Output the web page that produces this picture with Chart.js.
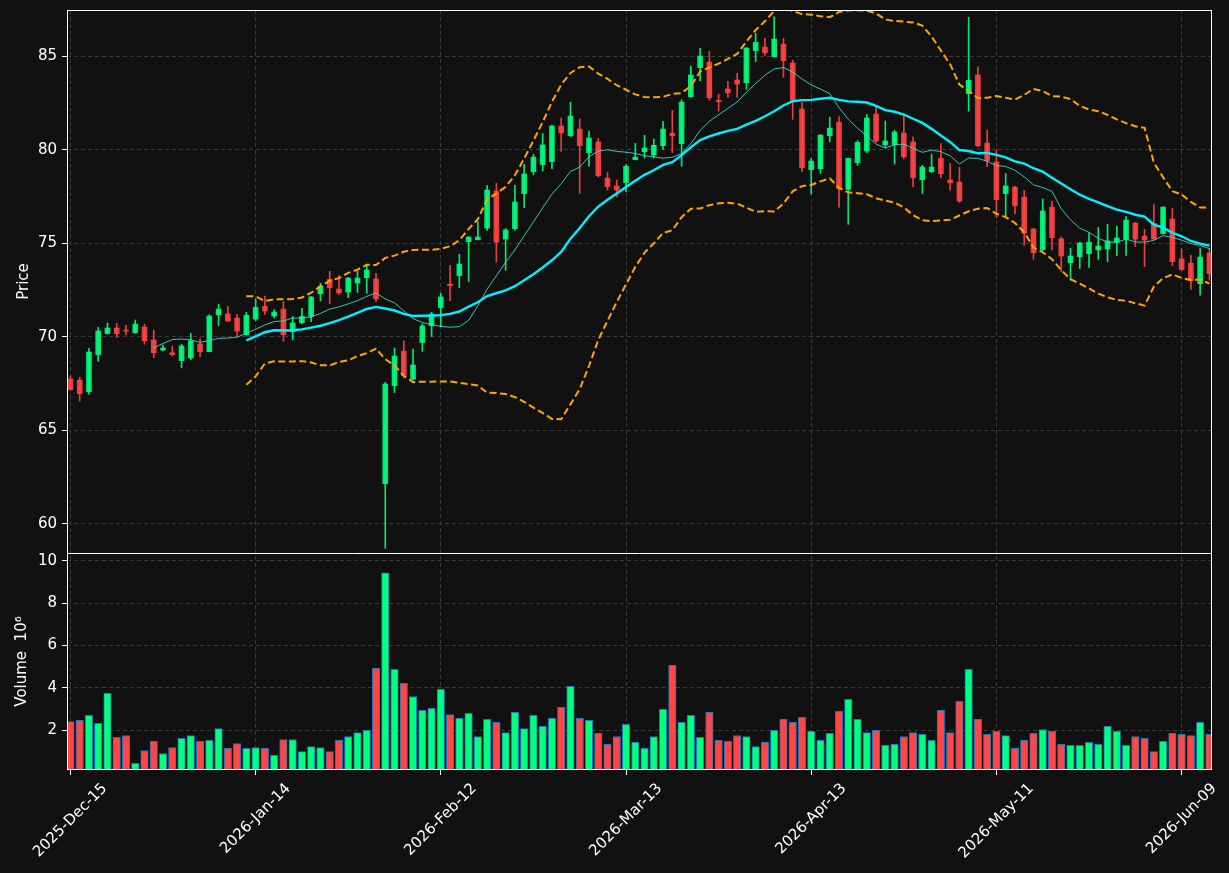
<!DOCTYPE html>
<html>
<head>
<meta charset="utf-8">
<script src="https://cdn.jsdelivr.net/npm/chart.js@4.4.1/dist/chart.umd.min.js"></script>
<style>
    html, body { margin: 0; padding: 0; background: #111111; }
    #wrap { width: 1229px; height: 873px; }
</style>
</head>
<body>
<div id="wrap"><canvas id="chart" width="1229" height="873"></canvas></div>
<script>
(function (window, document) {
    "use strict";

    // trading days (NYSE calendar)
    const dates = [
        "2025-Dec-15","2025-Dec-16","2025-Dec-17","2025-Dec-18","2025-Dec-19","2025-Dec-22","2025-Dec-23","2025-Dec-24","2025-Dec-26","2025-Dec-29",
        "2025-Dec-30","2025-Dec-31","2026-Jan-02","2026-Jan-05","2026-Jan-06","2026-Jan-07","2026-Jan-08","2026-Jan-09","2026-Jan-12","2026-Jan-13",
        "2026-Jan-14","2026-Jan-15","2026-Jan-16","2026-Jan-20","2026-Jan-21","2026-Jan-22","2026-Jan-23","2026-Jan-26","2026-Jan-27","2026-Jan-28",
        "2026-Jan-29","2026-Jan-30","2026-Feb-02","2026-Feb-03","2026-Feb-04","2026-Feb-05","2026-Feb-06","2026-Feb-09","2026-Feb-10","2026-Feb-11",
        "2026-Feb-12","2026-Feb-13","2026-Feb-17","2026-Feb-18","2026-Feb-19","2026-Feb-20","2026-Feb-23","2026-Feb-24","2026-Feb-25","2026-Feb-26",
        "2026-Feb-27","2026-Mar-02","2026-Mar-03","2026-Mar-04","2026-Mar-05","2026-Mar-06","2026-Mar-09","2026-Mar-10","2026-Mar-11","2026-Mar-12",
        "2026-Mar-13","2026-Mar-16","2026-Mar-17","2026-Mar-18","2026-Mar-19","2026-Mar-20","2026-Mar-23","2026-Mar-24","2026-Mar-25","2026-Mar-26",
        "2026-Mar-27","2026-Mar-30","2026-Mar-31","2026-Apr-01","2026-Apr-02","2026-Apr-06","2026-Apr-07","2026-Apr-08","2026-Apr-09","2026-Apr-10",
        "2026-Apr-13","2026-Apr-14","2026-Apr-15","2026-Apr-16","2026-Apr-17","2026-Apr-20","2026-Apr-21","2026-Apr-22","2026-Apr-23","2026-Apr-24",
        "2026-Apr-27","2026-Apr-28","2026-Apr-29","2026-Apr-30","2026-May-01","2026-May-04","2026-May-05","2026-May-06","2026-May-07","2026-May-08",
        "2026-May-11","2026-May-12","2026-May-13","2026-May-14","2026-May-15","2026-May-18","2026-May-19","2026-May-20","2026-May-21","2026-May-22",
        "2026-May-26","2026-May-27","2026-May-28","2026-May-29","2026-Jun-01","2026-Jun-02","2026-Jun-03","2026-Jun-04","2026-Jun-05","2026-Jun-08",
        "2026-Jun-09","2026-Jun-10","2026-Jun-11","2026-Jun-12"
    ];

    const opens = [
        67.75,67.69,67.07,69.05,70.17,70.47,70.36,70.22,70.52,69.83, 69.30,69.15,68.73,68.87,69.62,69.21,71.18,71.22,71.00,70.11,
        70.95,71.63,71.11,71.48,70.27,70.75,71.09,72.30,73.07,72.55, 72.39,72.87,73.16,73.09,62.15,67.39,69.24,67.73,69.69,70.59,
        71.56,72.82,73.27,75.08,75.19,75.81,77.79,75.22,75.78,77.65, 78.82,79.20,79.36,81.26,80.74,81.10,79.84,80.41,78.48,78.06,
        78.24,79.46,79.89,79.71,80.21,80.87,80.32,82.83,84.38,84.68, 82.63,83.24,83.72,83.58,85.29,85.48,84.96,85.64,84.63,82.17,
        78.93,78.98,80.74,81.47,77.88,79.30,79.93,81.90,80.26,80.26, 80.89,80.41,78.39,78.82,79.53,78.38,78.27,82.99,83.99,80.35,
        79.34,77.65,78.00,77.47,75.76,74.66,76.93,75.24,73.96,74.28, 74.44,74.64,74.69,75.05,75.22,76.08,75.38,76.06,75.51,76.29,
        74.16,73.93,72.84,74.48
    ];
    const highs = [
        67.91,67.84,69.38,70.51,70.74,70.72,70.63,70.90,70.68,70.36, 69.56,69.51,69.60,70.19,69.90,71.18,71.75,71.63,71.20,71.31,
        72.02,72.18,71.45,71.88,71.08,71.52,72.15,72.87,73.50,73.28, 73.16,73.52,73.84,73.39,67.57,69.40,69.78,69.35,70.68,71.31,
        72.32,73.82,74.41,75.35,76.15,78.09,78.20,75.79,78.09,79.21, 79.75,80.87,81.31,81.69,82.53,81.63,80.99,80.60,78.79,78.38,
        79.20,80.33,80.76,80.57,81.51,82.10,82.67,84.47,85.41,85.25, 82.97,83.65,84.07,85.45,86.21,85.94,87.10,85.94,84.77,82.53,
        79.53,80.80,81.74,81.76,79.55,80.48,81.88,82.29,81.53,81.03, 81.83,80.67,79.16,79.76,80.33,79.27,79.05,87.07,84.43,81.05,
        79.98,78.73,78.05,77.82,75.80,77.36,77.25,75.35,74.73,75.05, 75.56,75.85,76.01,75.92,76.42,76.10,75.74,77.09,76.95,76.86,
        74.69,74.35,74.71,74.74
    ];
    const lows = [
        67.16,66.57,66.93,68.69,70.15,69.97,70.10,70.20,69.60,68.89, 69.24,68.99,68.34,68.78,68.94,69.20,70.59,70.84,70.04,70.10,
        70.86,71.20,70.99,69.76,69.83,70.70,70.81,71.91,71.77,72.27, 72.09,72.36,72.32,71.86,58.70,67.03,67.83,67.70,69.22,70.01,
        70.54,71.93,72.63,72.96,75.17,75.69,73.98,73.55,75.70,76.90, 78.66,78.86,78.98,79.91,80.70,77.66,79.11,78.55,77.84,77.48,
        77.75,79.45,79.55,79.55,80.01,79.85,79.11,82.80,83.68,82.65, 82.06,82.79,82.79,83.22,84.70,85.04,84.95,83.86,81.62,78.82,
        77.63,78.73,80.42,76.92,76.01,79.16,79.84,80.40,80.10,79.23, 79.50,78.02,77.66,78.77,78.50,77.84,77.18,82.06,80.16,79.09,
        76.38,76.38,76.56,74.89,74.14,74.60,74.64,73.48,73.03,73.66, 73.71,74.14,74.01,74.33,74.35,74.83,73.75,75.20,75.50,73.80,
        73.55,72.55,72.22,73.02
    ];
    const closes = [
        67.18,66.96,69.19,70.31,70.47,70.17,70.31,70.68,69.79,69.15, 69.40,69.05,69.51,69.79,69.21,71.11,71.48,70.84,70.31,71.15,
        71.57,71.38,71.32,70.11,70.74,71.09,72.13,72.70,72.63,72.34, 73.14,73.14,73.57,72.02,67.48,68.97,67.94,68.49,70.58,71.22,
        72.13,72.73,73.89,75.33,75.33,77.84,75.06,75.71,77.20,78.70, 79.60,80.25,81.26,80.90,81.79,80.21,80.62,78.61,78.02,77.84,
        79.11,79.60,80.09,80.23,81.10,80.74,82.54,83.99,85.00,82.77, 82.56,83.04,83.50,85.43,85.73,85.18,85.91,84.75,82.63,79.03,
        79.39,80.78,81.15,77.91,79.53,80.39,81.69,80.46,80.46,80.94, 79.62,78.50,79.07,79.07,78.71,78.23,77.25,83.70,80.21,79.41,
        77.33,78.06,77.00,75.53,74.49,76.72,75.30,74.32,74.32,75.01, 75.06,74.85,75.12,75.28,76.24,75.22,75.17,75.22,76.93,74.01,
        73.59,73.00,74.26,73.37
    ];
    // volume, millions
    const volumes = [
        2.42,2.47,2.71,2.33,3.75,1.67,1.76,0.44,1.05,1.48, 0.91,1.19,1.62,1.76,1.48,1.53,2.09,1.15,1.38,1.15,
        1.19,1.15,0.82,1.57,1.57,1.00,1.24,1.19,1.00,1.53, 1.71,1.90,2.00,4.93,9.43,4.88,4.22,3.60,2.94,3.04,
        3.94,2.75,2.57,2.80,1.71,2.52,2.38,1.90,2.85,2.09, 2.71,2.19,2.57,3.09,4.08,2.57,2.47,1.86,1.34,1.71,
        2.28,1.43,1.15,1.71,2.99,5.07,2.38,2.71,1.67,2.85, 1.53,1.48,1.76,1.71,1.24,1.43,2.00,2.52,2.38,2.61,
        1.95,1.53,1.86,2.90,3.47,2.52,1.89,2.00,1.29,1.34, 1.71,1.90,1.81,1.53,2.94,1.90,3.37,4.88,2.52,1.81,
        1.95,1.76,1.15,1.53,1.86,2.04,1.95,1.34,1.29,1.29, 1.43,1.34,2.19,1.95,1.29,1.71,1.62,1.00,1.48,1.86,
        1.81,1.76,2.38,1.81
    ];

    const BG = "#111111";
    const GRID = "#3a3a3a";
    const TEXT = "#ffffff";
    const UP = "#00ff7f";
    const DOWN = "#ff4545";
    const UP_CANDLE = "rgba(0,255,127,0.9)";
    const DOWN_CANDLE = "rgba(255,69,69,0.9)";
    const FONT = { family: "'DejaVu Sans', sans-serif", size: 15 };

    function rollingMean(arr, n) {
        return arr.map((_, i) => {
            if (i < n - 1) return null;
            let s = 0;
            for (let k = i - n + 1; k <= i; k++) s += arr[k];
            return s / n;
        });
    }

    function rollingStd(arr, n) {
        const mean = rollingMean(arr, n);
        return arr.map((_, i) => {
            if (mean[i] === null) return null;
            let s = 0;
            for (let k = i - n + 1; k <= i; k++) s += (arr[k] - mean[i]) * (arr[k] - mean[i]);
            return Math.sqrt(s / (n - 1));
        });
    }

    function toPoints(arr) {
        return arr.map((v, i) => ({ x: i, y: v })).filter(p => p.y !== null);
    }

    const isUp = closes.map((c, i) => c >= opens[i]);
    const ma10 = rollingMean(closes, 10);
    const ma20 = rollingMean(closes, 20);
    const sd20 = rollingStd(closes, 20);
    const bbUpper = ma20.map((m, i) => m === null ? null : m + 2 * sd20[i]);
    const bbLower = ma20.map((m, i) => m === null ? null : m - 2 * sd20[i]);

    function lineSet(label, arr, color, width, dash) {
        return {
            type: "line", label: label, data: toPoints(arr), yAxisID: "y",
            borderColor: color, borderWidth: width, borderDash: dash || [],
            pointRadius: 0, tension: 0, fill: false
        };
    }

    function fixLeftAxis(s) {
        s.width = 67;
        s.paddingTop = 0;
        s.paddingBottom = 0;
    }

    const panelPlugin = {
        id: "panels",
        beforeDraw(chart) {
            const ctx = chart.ctx;
            ctx.save();
            ctx.fillStyle = BG;
            ctx.fillRect(0, 0, chart.width, chart.height);
            ctx.restore();
        },
        afterDraw(chart) {
            const { ctx, chartArea: a, scales } = chart;
            ctx.save();
            ctx.strokeStyle = TEXT;
            ctx.lineWidth = 1;
            const sep = Math.round(scales.y.bottom) + 0.5;
            ctx.strokeRect(Math.round(a.left) + 0.5, Math.round(a.top) + 0.5,
                Math.round(a.right - a.left) - 1, Math.round(a.bottom - a.top) - 1);
            ctx.beginPath();
            ctx.moveTo(a.left, sep);
            ctx.lineTo(a.right, sep);
            ctx.stroke();

            // x tick labels, rotated 45deg and centred on the tick
            const xs = scales.x;
            ctx.fillStyle = TEXT;
            ctx.font = FONT.size + "px " + FONT.family;
            ctx.textAlign = "center";
            ctx.textBaseline = "middle";
            const h = FONT.size * 1.17;
            xs.ticks.forEach(t => {
                const label = dates[t.value];
                if (!label) return;
                const w = ctx.measureText(label).width;
                const cx = xs.getPixelForValue(t.value);
                const cy = xs.top + 10 + (w + h) * Math.SQRT1_2 / 2;
                ctx.save();
                ctx.translate(cx, cy);
                ctx.rotate(-Math.PI / 4);
                ctx.fillText(label, 0, 0);
                ctx.restore();
            });
            ctx.restore();
        }
    };

    const ctx = document.getElementById("chart").getContext("2d");
    new Chart(ctx, {
        type: "bar",
        data: {
            datasets: [
                lineSet("BB upper", bbUpper, "#ffa500", 2, [7, 3.5]),
                lineSet("BB lower", bbLower, "#ffa500", 2, [7, 3.5]),
                lineSet("MA20", ma20, "#00f0ff", 2.4),
                lineSet("MA10", ma10, "rgba(64,224,208,0.85)", 1),
                {
                    label: "Body", yAxisID: "y", grouped: false, barThickness: 5,
                    data: opens.map((o, i) => ({ x: i, y: [Math.min(o, closes[i]), Math.max(o, closes[i])] })),
                    backgroundColor: isUp.map(u => u ? UP_CANDLE : DOWN_CANDLE),
                    borderWidth: 0
                },
                {
                    label: "Wick", yAxisID: "y", grouped: false, barThickness: 1,
                    data: lows.map((l, i) => ({ x: i, y: [l, highs[i]] })),
                    backgroundColor: isUp.map(u => u ? UP_CANDLE : DOWN_CANDLE),
                    borderWidth: 0
                },
                {
                    label: "Volume", yAxisID: "yv", grouped: false, barThickness: 7.5,
                    data: volumes.map((v, i) => ({ x: i, y: v })),
                    backgroundColor: isUp.map(u => u ? UP : DOWN),
                    borderColor: "#1f77b4", borderWidth: 1, borderSkipped: false
                }
            ]
        },
        options: {
            responsive: false,
            animation: false,
            devicePixelRatio: 1,
            layout: { padding: { top: 10, right: 17, left: 0, bottom: 0 } },
            plugins: { legend: { display: false }, tooltip: { enabled: false } },
            scales: {
                x: {
                    type: "linear", min: -0.37, max: 123.28, offset: false,
                    ticks: { stepSize: 20, includeBounds: false, autoSkip: false, display: false },
                    grid: { color: GRID, offset: false, tickColor: TEXT, tickLength: 5, tickBorderDash: [] },
                    border: { display: false, dash: [4, 3] },
                    afterFit: s => { s.height = 103; }
                },
                // left stacked axes are laid out in reverse order: volume first puts price on top
                yv: {
                    position: "left", stack: "panes", stackWeight: 217,
                    min: 0.13, max: 10.37,
                    ticks: { stepSize: 2, includeBounds: false, color: TEXT, font: FONT, padding: 5 },
                    grid: { color: GRID, tickColor: TEXT, tickLength: 5, tickBorderDash: [] },
                    border: { display: false, dash: [4, 3] },
                    title: { display: true, text: "Volume  10\u2076", color: TEXT, font: FONT, padding: { top: 13, bottom: 0 } },
                    afterFit: fixLeftAxis
                },
                y: {
                    position: "left", stack: "panes", stackWeight: 543,
                    min: 58.45, max: 87.46,
                    ticks: { stepSize: 5, includeBounds: false, color: TEXT, font: FONT, padding: 5 },
                    grid: { color: GRID, tickColor: TEXT, tickLength: 5, tickBorderDash: [] },
                    border: { display: false, dash: [4, 3] },
                    title: { display: true, text: "Price", color: TEXT, font: FONT, padding: { top: 15, bottom: 0 } },
                    afterFit: fixLeftAxis
                }
            }
        },
        plugins: [panelPlugin]
    });
})(window, document);
</script>
</body>
</html>
